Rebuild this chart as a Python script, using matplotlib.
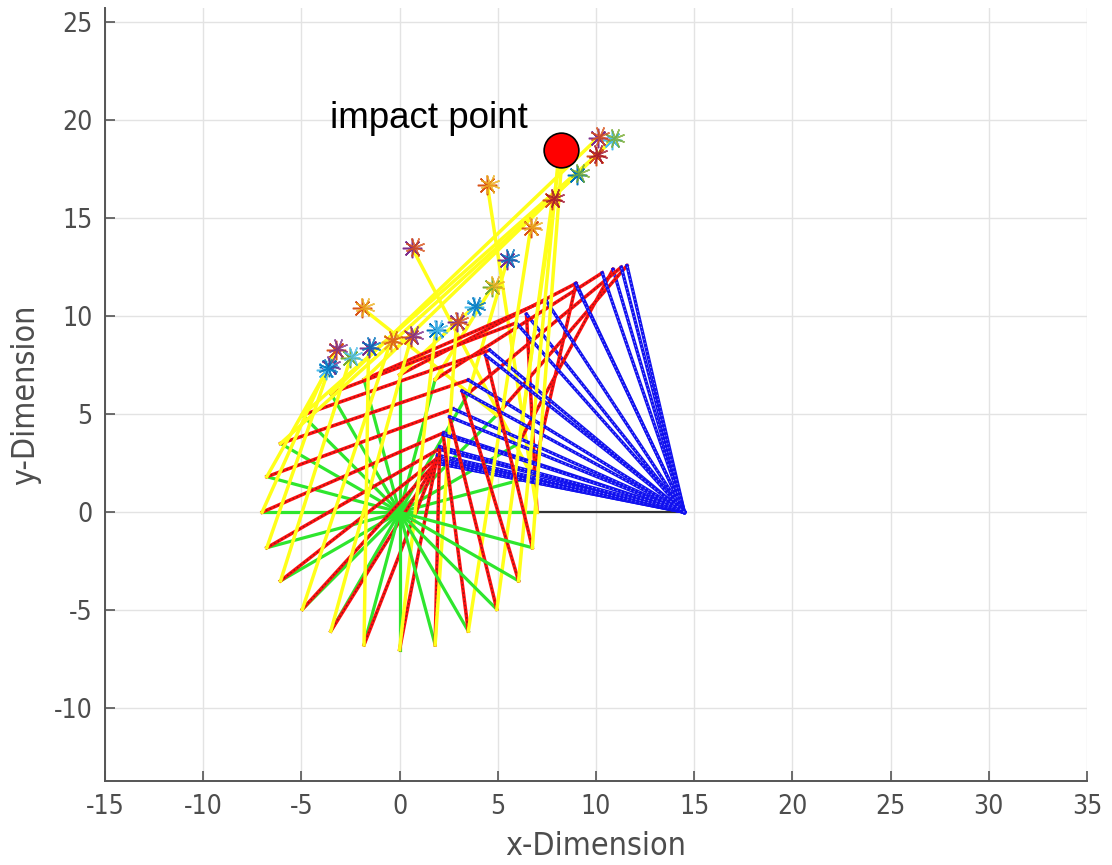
import matplotlib
matplotlib.use('Agg')
import matplotlib.pyplot as plt

# crank tips (green link, pivot at origin), every 15 degrees
crank_x = [7.00, 6.76, 6.06, 4.95, 3.50, 1.81, 0.00, -1.81, -3.50, -4.95, -6.06, -6.76,
           -7.00, -6.76, -6.06, -4.95, -3.50, -1.81, 0.00, 1.81, 3.50, 4.95, 6.06, 6.76]
crank_y = [0.00, 1.81, 3.50, 4.95, 6.06, 6.76, 7.00, 6.76, 6.06, 4.95, 3.50, 1.81,
           0.00, -1.81, -3.50, -4.95, -6.06, -6.76, -7.00, -6.76, -6.06, -4.95, -3.50, -1.81]

# rocker tips (blue link, pivot at x=14.5)
rocker_x = [6.46, 8.99, 10.87, 11.58, 11.29, 10.32, 8.96, 7.45, 5.94, 4.59, 3.50, 2.73,
            2.25, 2.00, 1.89, 1.85, 1.85, 1.87, 1.93, 2.04, 2.22, 2.55, 3.18, 4.38]
rocker_y = [10.09, 11.66, 12.38, 12.57, 12.49, 12.20, 11.65, 10.80, 9.65, 8.26, 6.74, 5.27,
            4.05, 3.21, 2.73, 2.52, 2.51, 2.64, 2.91, 3.34, 3.96, 4.86, 6.18, 8.00]
pivot = [14.5, 0.0]

# end points of the yellow arm (star markers)
star_x = [4.47, 0.65, 8.20, -1.90, 5.49, 4.72, 3.77, 10.84, 10.10, 10.00, 9.05, -3.60,
          -3.75, -3.26, -2.50, -0.46, 0.60, -1.58, 1.84, 2.90, 6.68, 7.78, 8.10, 8.30]
star_y = [16.66, 13.45, 18.35, 10.40, 12.86, 11.50, 10.45, 18.98, 19.08, 18.18, 17.20, 7.41,
          7.25, 8.27, 7.86, 8.68, 8.94, 8.37, 9.28, 9.67, 14.50, 15.92, 18.20, 18.45]
star_col_a = ['#D95319', '#7E2F8E', '#D95319', '#D95319', '#7E2F8E', '#77AC30', '#4DBEEE', '#4DBEEE',
              '#7E2F8E', '#D95319', '#0072BD', '#0072BD', '#4DBEEE', '#D95319', '#77AC30', '#EDB120',
              '#D95319', '#7E2F8E', '#0072BD', '#7E2F8E', '#D95319', '#D95319', '#D95319', '#7E2F8E']
star_col_b = ['#EDB120', '#D95319', '#EDB120', '#EDB120', '#0072BD', '#EDB120', '#0072BD', '#77AC30',
              '#D95319', '#A2142F', '#77AC30', '#7E2F8E', '#0072BD', '#7E2F8E', '#4DBEEE', '#D95319',
              '#7E2F8E', '#0072BD', '#4DBEEE', '#D95319', '#EDB120', '#A2142F', '#EDB120', '#D95319']

impact = [8.2, 18.45]

x_ticks = list(range(-15, 36, 5))
y_ticks = list(range(-10, 26, 5))

fig = plt.figure(figsize=(11.12, 8.65), dpi=100)
ax = fig.add_axes([0.0944, 0.0971, 0.8831, 0.8937])

ax.plot([0, pivot[0]], [0, pivot[1]], color='#333333', lw=1.6, zorder=2)

# draw the mechanism frame by frame, like hold on
for k in range(len(crank_x)):
    z = 3 + k * 0.01
    ax.plot([0, crank_x[k]], [0, crank_y[k]], color='#2ee62e', lw=2.3, zorder=z)
    ax.plot([crank_x[k], rocker_x[k]], [crank_y[k], rocker_y[k]], color='#ff1010', lw=2.5, zorder=z)
    ax.plot([crank_x[k], rocker_x[k]], [crank_y[k], rocker_y[k]], color='#8b1a1a', lw=1.0,
            ls=(0, (1.2, 1.8)), zorder=z)
    ax.plot([pivot[0], rocker_x[k]], [pivot[1], rocker_y[k]], color='#1010ee', lw=2.4, zorder=z)
    ax.plot([pivot[0], rocker_x[k]], [pivot[1], rocker_y[k]], color='#8c8cff', lw=0.8,
            ls=(0, (1.2, 2.5)), zorder=z)
    ax.plot([crank_x[k], star_x[k]], [crank_y[k], star_y[k]], color='#ffff1a', lw=2.5, zorder=z)

for k in range(len(star_x)):
    ax.plot(star_x[k], star_y[k], marker=(8, 2, 0), ms=14, mew=1.1, color=star_col_a[k],
            ls='none', zorder=5)
    ax.plot(star_x[k] + 0.12, star_y[k] + 0.08, marker=(8, 2, 22.5), ms=14, mew=1.1,
            color=star_col_b[k], ls='none', alpha=0.8, zorder=5)

ax.plot(impact[0], impact[1], 'o', ms=25, mfc='#ff0000', mec='black', mew=1.2, zorder=6)
ax.text(-3.55, 19.6, 'impact point', fontsize=26.5, family='Liberation Sans',
        color='black', ha='left', va='baseline', zorder=7)

ax.set_xlim(-15, 35)
ax.set_ylim(-13.7, 25.7)
ax.set_xticks(x_ticks)
ax.set_yticks(y_ticks)
ax.set_xticklabels([str(v) for v in x_ticks], fontstretch='condensed')
ax.set_yticklabels([str(v) for v in y_ticks], fontstretch='condensed')
ax.grid(True, color='#e3e3e3', lw=1.0)
ax.set_axisbelow(True)
for s in ['top', 'right']:
    ax.spines[s].set_visible(False)
for s in ['left', 'bottom']:
    ax.spines[s].set_color('#555555')
    ax.spines[s].set_linewidth(1.4)
ax.tick_params(direction='in', length=7, width=1.2, color='#555555',
               labelcolor='#4d4d4d', labelsize=19, pad=9)
ax.set_xlabel('x-Dimension', fontsize=23, color='#4d4d4d', labelpad=8, fontstretch='condensed')
ax.set_ylabel('y-Dimension', fontsize=23, color='#4d4d4d', labelpad=9, fontstretch='condensed')

fig.savefig('out.png', dpi=100)
